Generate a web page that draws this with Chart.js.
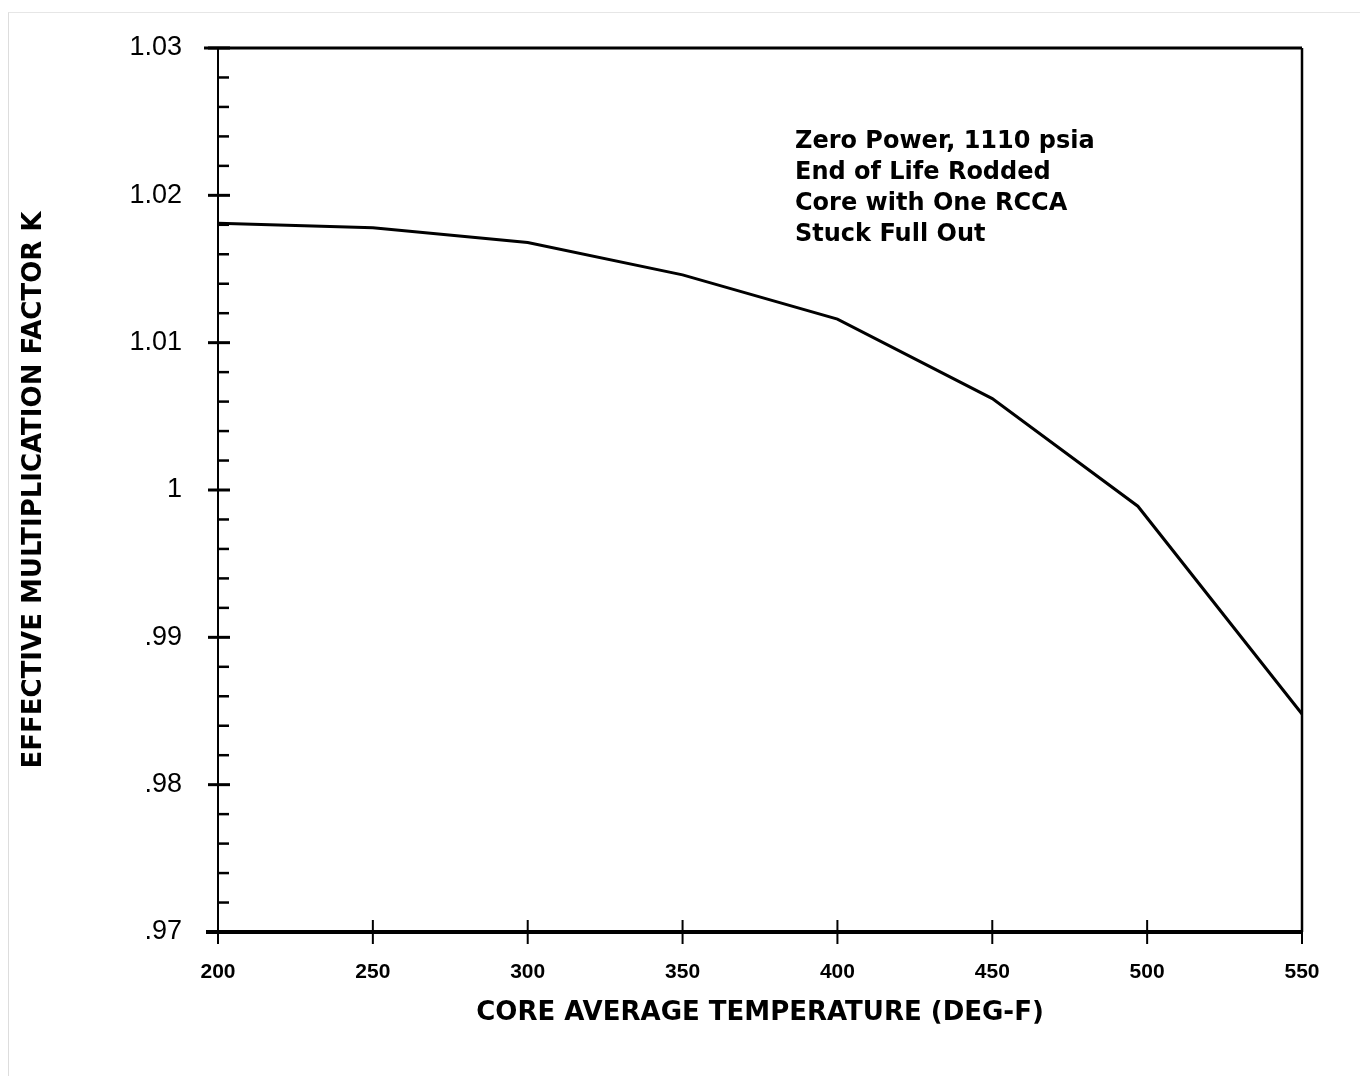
<!DOCTYPE html>
<html>
<head>
<meta charset="utf-8">
<script src="https://cdn.jsdelivr.net/npm/chart.js@4/dist/chart.umd.min.js"></script>
<style>
  html, body { margin: 0; padding: 0; background: #fff; }
  #wrap { position: relative; width: 1360px; height: 1076px; }
  #frame { position: absolute; left: 8px; top: 12px; right: 0; bottom: 0;
           border-left: 1px solid #ddd; border-top: 1px solid #e6e6e6; pointer-events: none; }
</style>
</head>
<body>
<div id="wrap">
  <canvas id="myChart" width="1360" height="1076"></canvas>
  <div id="frame"></div>
</div>
<script>
// data
const temps = [200, 250, 300, 350, 400, 450, 497, 550];
const kEff = [1.0181, 1.0178, 1.0168, 1.0146, 1.0116, 1.0062, 0.9989, 0.9848];
const xTicks = [200, 250, 300, 350, 400, 450, 500, 550];
const yLabels = ['1.03', '1.02', '1.01', '1', '.99', '.98', '.97'];
const note = ['Zero Power, 1110 psia', 'End of Life Rodded', 'Core with One RCCA', 'Stuck Full Out'];

const isMajor = v => Math.abs(v * 100 - Math.round(v * 100)) < 1e-6;
const fmtY = v => yLabels.find(l => Math.abs(parseFloat(l) - v) < 1e-6) || v.toFixed(2);

// box, ticks and the note, drawn on the library's scales
const frame = {
    id: 'frame',
    afterDatasetsDraw(chart) {
        const { ctx, chartArea: a, scales: { x, y } } = chart;
        ctx.save();
        ctx.strokeStyle = '#000';
        ctx.lineCap = 'butt';
        // left axis
        ctx.lineWidth = 2;
        ctx.beginPath(); ctx.moveTo(a.left, a.top); ctx.lineTo(a.left, a.bottom); ctx.stroke();
        // top, extends past the axis
        ctx.lineWidth = 3;
        ctx.beginPath(); ctx.moveTo(a.left - 14, a.top); ctx.lineTo(a.right, a.top); ctx.stroke();
        // right
        ctx.lineWidth = 2.5;
        ctx.beginPath(); ctx.moveTo(a.right, a.top); ctx.lineTo(a.right, a.bottom); ctx.stroke();
        // bottom
        ctx.lineWidth = 4;
        ctx.beginPath(); ctx.moveTo(a.left - 12, a.bottom); ctx.lineTo(a.right, a.bottom); ctx.stroke();

        // y ticks
        y.ticks.forEach(t => {
            const py = y.getPixelForValue(t.value);
            ctx.lineWidth = isMajor(t.value) ? 3 : 2.5;
            ctx.beginPath();
            if (isMajor(t.value)) { ctx.moveTo(a.left - 10, py); ctx.lineTo(a.left + 12, py); }
            else { ctx.moveTo(a.left, py); ctx.lineTo(a.left + 11, py); }
            ctx.stroke();
        });
        // x ticks
        ctx.lineWidth = 2;
        x.ticks.forEach(t => {
            const px = x.getPixelForValue(t.value);
            ctx.beginPath(); ctx.moveTo(px, a.bottom - 12); ctx.lineTo(px, a.bottom + 12); ctx.stroke();
        });

        // note
        ctx.fillStyle = '#000';
        ctx.font = 'bold 24px "DejaVu Sans"';
        ctx.textBaseline = 'middle';
        note.forEach((s, i) => ctx.fillText(s, 795, 142 + i * 31));
        ctx.restore();
    }
};

const ctx = document.getElementById('myChart').getContext('2d');
const myChart = new Chart(ctx, {
    type: 'line',
    data: {
        datasets: [{
            data: temps.map((t, i) => ({ x: t, y: kEff[i] })),
            borderColor: '#000',
            borderWidth: 3,
            pointRadius: 0,
            tension: 0,
            fill: false
        }]
    },
    options: {
        responsive: false,
        animation: false,
        layout: { padding: { top: 48, right: 58, left: 0, bottom: 0 } },
        plugins: { legend: { display: false }, tooltip: { enabled: false } },
        scales: {
            x: {
                type: 'linear',
                min: 200, max: 550,
                afterBuildTicks: s => { s.ticks = xTicks.map(v => ({ value: v })); },
                afterFit: s => { s.height = 144; },
                border: { display: false },
                grid: { display: false },
                ticks: {
                    padding: 20,
                    color: '#000',
                    font: { family: '"Liberation Sans Narrow", "Liberation Sans", Arial', size: 21, weight: 'bold' }
                },
                title: {
                    display: true,
                    text: 'CORE AVERAGE TEMPERATURE (DEG-F)',
                    color: '#000',
                    padding: { top: 0, bottom: 47 },
                    font: { family: '"DejaVu Sans"', size: 26, weight: 'bold' }
                }
            },
            y: {
                min: 0.97, max: 1.03,
                afterBuildTicks: s => {
                    const t = [];
                    for (let i = 0; i <= 30; i++) t.push({ value: Math.round((0.97 + i * 0.002) * 1000) / 1000 });
                    s.ticks = t;
                },
                afterFit: s => { s.width = 218; },
                border: { display: false },
                grid: { display: false },
                ticks: {
                    padding: 28,
                    color: '#000',
                    autoSkip: false,
                    font: { family: '"Liberation Sans", Arial', size: 27 },
                    callback: v => isMajor(v) ? fmtY(v) : ''
                },
                title: {
                    display: true,
                    text: 'EFFECTIVE MULTIPLICATION FACTOR K',
                    color: '#000',
                    padding: { top: 19 },
                    font: { family: '"DejaVu Sans"', size: 26, weight: 'bold' }
                }
            }
        }
    },
    plugins: [frame]
});
</script>
</body>
</html>
